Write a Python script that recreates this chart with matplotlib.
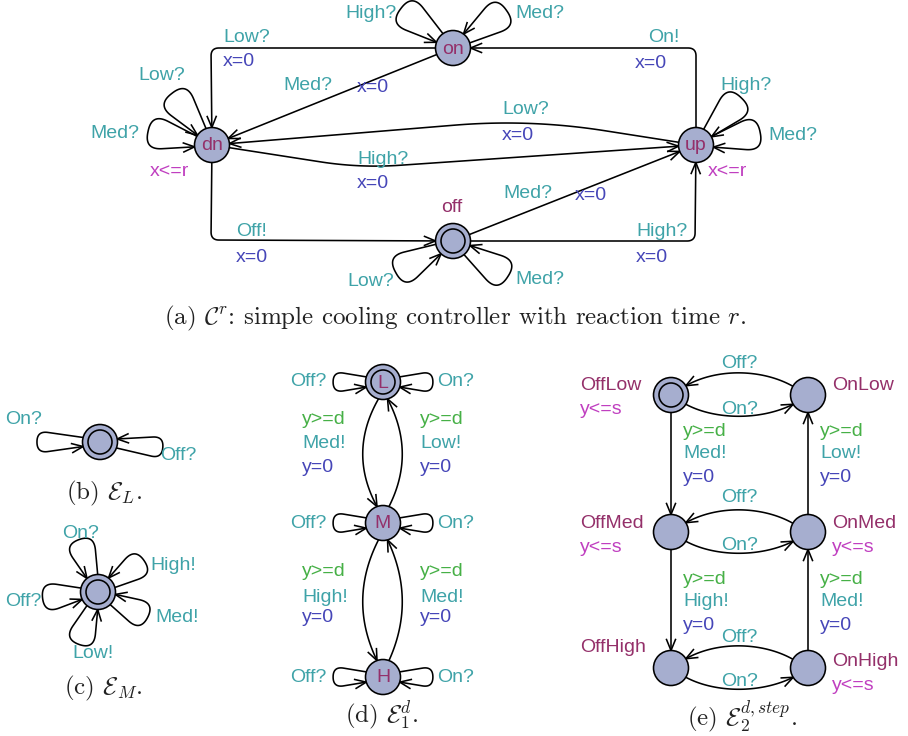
import numpy as np
import matplotlib.pyplot as plt

plt.rcParams['mathtext.fontset'] = 'cm'
SANS = ['Liberation Sans', 'DejaVu Sans']

# UPPAAL style colours
SYNC_C = '#3fa3a8'
UPD_C = '#4646b8'
INV_C = '#c03fc0'
NAME_C = '#94306a'
GUARD_C = '#46b046'
LOC_FILL = '#a6aecf'

# ---------------- data ----------------
# (a) controller C^r
ctrl_locs = ['on', 'dn', 'up', 'off']
ctrl_init = 'off'
ctrl_inv = {'dn': 'x<=r', 'up': 'x<=r'}
ctrl_edges = [('on', 'dn', 'Low?', 'x=0'),
              ('on', 'dn', 'Med?', 'x=0'),
              ('up', 'on', 'On!', 'x=0'),
              ('up', 'dn', 'Low?', 'x=0'),
              ('dn', 'up', 'High?', 'x=0'),
              ('off', 'up', 'Med?', 'x=0'),
              ('dn', 'off', 'Off!', 'x=0'),
              ('off', 'up', 'High?', 'x=0')]
ctrl_loops = [('on', 'High?'), ('on', 'Med?'), ('dn', 'Low?'), ('dn', 'Med?'),
              ('up', 'High?'), ('up', 'Med?'), ('off', 'Low?'), ('off', 'Med?')]

# (b) E_L and (c) E_M : one location with self loops
envL_loops = ['On?', 'Off?']
envM_loops = ['On?', 'High!', 'Med!', 'Low!', 'Off?']

# (d) E_1^d
env1_locs = ['L', 'M', 'H']
env1_edges = [('L', 'M', 'y>=d', 'Med!', 'y=0'),
              ('M', 'L', 'y>=d', 'Low!', 'y=0'),
              ('M', 'H', 'y>=d', 'High!', 'y=0'),
              ('H', 'M', 'y>=d', 'Med!', 'y=0')]
env1_loops = ['Off?', 'On?']

# (e) E_2^{d,step}
env2_locs = ['OffLow', 'OnLow', 'OffMed', 'OnMed', 'OffHigh', 'OnHigh']
env2_inv = {'OffLow': 'y<=s', 'OffMed': 'y<=s', 'OnMed': 'y<=s', 'OnHigh': 'y<=s'}
env2_switch = [('OnLow', 'OffLow', 'Off?'), ('OffLow', 'OnLow', 'On?'),
               ('OnMed', 'OffMed', 'Off?'), ('OffMed', 'OnMed', 'On?'),
               ('OnHigh', 'OffHigh', 'Off?'), ('OffHigh', 'OnHigh', 'On?')]
env2_steps = [('OffLow', 'OffMed', 'y>=d', 'Med!', 'y=0'),
              ('OffMed', 'OffHigh', 'y>=d', 'High!', 'y=0'),
              ('OnMed', 'OnLow', 'y>=d', 'Low!', 'y=0'),
              ('OnHigh', 'OnMed', 'y>=d', 'Med!', 'y=0')]

captions = [r'(a) $\mathcal{C}^r$: simple cooling controller with reaction time $r$.',
            r'(b) $\mathcal{E}_L$.', r'(c) $\mathcal{E}_M$.',
            r'(d) $\mathcal{E}_1^d$.', r'(e) $\mathcal{E}_2^{d,step}$.']

# ---------------- layout (pixel coordinates) ----------------
R, R_IN = 17.5, 12
LW = 1.15
FS = 14

ctrl_xy = {'on': (453, 48), 'dn': (212, 145), 'up': (696, 145), 'off': (453, 241)}
ctrl_edge_geo = [dict(nails=[(211, 48)], rad=8, lab=[(223, 38), (223, 62)]),
                 dict(nails=[], rad=0, lab=[(283, 86), (357, 87)]),
                 dict(nails=[(696, 48)], rad=8, lab=[(648, 38), (635, 63)]),
                 dict(nails=[(530, 119)], rad=90, lab=[(502, 110), (502, 135)]),
                 dict(nails=[(360, 168)], rad=40, lab=[(357, 159), (357, 183)]),
                 dict(nails=[], rad=0, lab=[(503, 193), (575, 196)]),
                 dict(nails=[(211, 240)], rad=8, lab=[(236, 232), (236, 257)]),
                 dict(nails=[(695, 241)], rad=8, lab=[(636, 232), (636, 257)])]
# loop direction angle (deg, y up), counter-clockwise flag, label left/centre
ctrl_loop_geo = [(143, True, (345, 13)), (35, True, (515, 13)),
                 (128, True, (138, 75)), (168, True, (90, 133)),
                 (46, False, (720, 86)), (11, False, (768, 135)),
                 (-151, True, (347, 282)), (-33, True, (515, 280))]
ctrl_inv_xy = {'dn': (150, 172), 'up': (708, 172)}

envL_xy = (100, 442)
envL_loop_geo = [(180, True, (5, 420)), (-5, True, (160, 455))]
envM_xy = (98, 592)
envM_loop_geo = [(110, True, (62, 533)), (34, True, (150, 565)),
                 (-27, True, (155, 618)), (-110, True, (72, 653)),
                 (186, True, (5, 602))]

env1_xy = {'L': (383, 382), 'M': (383, 523), 'H': (383, 677)}
env1_edge_geo = [(-105, 110, -30, (302, [420, 443, 467])),
                 (70, -75, 28, (420, [420, 443, 467])),
                 (-105, 110, -30, (302, [572, 597, 618])),
                 (70, -75, 28, (420, [572, 597, 618]))]

env2_xy = {'OffLow': (671, 395), 'OnLow': (808, 395),
           'OffMed': (671, 532), 'OnMed': (808, 532),
           'OffHigh': (671, 668), 'OnHigh': (808, 668)}
env2_name_xy = {'OffLow': (580, 385), 'OnLow': (832, 385),
                'OffMed': (580, 523), 'OnMed': (832, 523),
                'OffHigh': (580, 648), 'OnHigh': (832, 661)}
env2_switch_lab_y = [363, 409, 498, 545, 637, 682]
env2_step_lab = [(683, [432, 453, 477]), (683, [580, 602, 625]),
                 (820, [432, 453, 477]), (820, [580, 602, 625])]
caption_xy = [(455, 318), (104, 493), (103, 688), (382, 715), (742, 717)]


# ---------------- helpers ----------------
def unit(deg):
    t = np.radians(deg)
    return np.array([np.cos(t), -np.sin(t)])


def toward(c, p, r=R):
    c = np.asarray(c, float)
    d = np.asarray(p, float) - c
    return c + d / np.hypot(*d) * r


def rounded(pts, rad):
    pts = [np.asarray(p, float) for p in pts]
    out = [pts[0]]
    for i in range(1, len(pts) - 1):
        p0, p1, p2 = pts[i - 1], pts[i], pts[i + 1]
        d0, d2 = np.linalg.norm(p1 - p0), np.linalg.norm(p2 - p1)
        c = min(rad, d0 / 2, d2 / 2)
        a = p1 + (p0 - p1) / d0 * c
        b = p1 + (p2 - p1) / d2 * c
        t = np.linspace(0, 1, 30)[:, None]
        out.extend((1 - t) ** 2 * a + 2 * (1 - t) * t * p1 + t ** 2 * b)
    out.append(pts[-1])
    return np.array(out)


def bezier(ctrl, n=80):
    ctrl = np.asarray(ctrl, float)
    res = []
    for tt in np.linspace(0, 1, n):
        p = ctrl.copy()
        while len(p) > 1:
            p = (1 - tt) * p[:-1] + tt * p[1:]
        res.append(p[0])
    return np.array(res)


def draw_path(ax, path, head=True):
    ax.plot(path[:, 0], path[:, 1], color='black', lw=LW, solid_capstyle='round', zorder=2)
    if not head:
        return
    tip = path[-1]
    k = len(path) - 2
    while k > 0 and np.linalg.norm(tip - path[k]) < 4:
        k -= 1
    u = tip - path[k]
    u /= np.linalg.norm(u)
    n = np.array([-u[1], u[0]])
    back = tip - u * 11
    hx = [back[0] + n[0] * 4.5, tip[0], back[0] - n[0] * 4.5]
    hy = [back[1] + n[1] * 4.5, tip[1], back[1] - n[1] * 4.5]
    ax.plot(hx, hy, color='black', lw=LW, solid_joinstyle='miter', zorder=2)


def draw_loop(ax, c, theta, ccw, D=60, a=16, b=12, rad=9):
    c = np.asarray(c, float)
    s = -1 if ccw else 1
    pts = [c + R * unit(theta + s * a), c + D * unit(theta + s * b),
           c + D * unit(theta - s * b), c + R * unit(theta - s * a)]
    draw_path(ax, rounded(pts, rad))


def draw_loc(ax, c, initial=False, name=None):
    ax.add_patch(plt.Circle(c, R, facecolor=LOC_FILL, edgecolor='black', lw=LW, zorder=3))
    if initial:
        ax.add_patch(plt.Circle(c, R_IN, facecolor='none', edgecolor='black', lw=LW, zorder=4))
    if name:
        ax.text(c[0], c[1] + 1, name, color=NAME_C, fontsize=FS, family=SANS,
                ha='center', va='center', zorder=5)


def label(ax, xy, s, color, ha='left'):
    ax.text(xy[0], xy[1], s, color=color, fontsize=FS, family=SANS,
            ha=ha, va='center', zorder=5)


fig = plt.figure(figsize=(9.08, 7.36), dpi=100)
ax = fig.add_axes([0, 0, 1, 1])
ax.set_xlim(0, 908)
ax.set_ylim(736, 0)
ax.set_aspect('equal')
ax.axis('off')

# ---- (a) ----
for (src, dst, sync, upd), g in zip(ctrl_edges, ctrl_edge_geo):
    first = g['nails'][0] if g['nails'] else ctrl_xy[dst]
    last = g['nails'][-1] if g['nails'] else ctrl_xy[src]
    pts = [toward(ctrl_xy[src], first)] + g['nails'] + [toward(ctrl_xy[dst], last)]
    draw_path(ax, rounded(pts, g['rad']))
    label(ax, g['lab'][0], sync, SYNC_C)
    label(ax, g['lab'][1], upd, UPD_C)
for (loc, sync), (th, ccw, lxy) in zip(ctrl_loops, ctrl_loop_geo):
    draw_loop(ax, ctrl_xy[loc], th, ccw, D=68, a=18, b=16, rad=18)
    label(ax, lxy, sync, SYNC_C)
for loc in ctrl_locs:
    draw_loc(ax, ctrl_xy[loc], loc == ctrl_init, None if loc == 'off' else loc)
label(ax, (452, 207), 'off', NAME_C, ha='center')
for loc, inv in ctrl_inv.items():
    label(ax, ctrl_inv_xy[loc], inv, INV_C)

# ---- (b) ----
for sync, (th, ccw, lxy) in zip(envL_loops, envL_loop_geo):
    draw_loop(ax, envL_xy, th, ccw, D=64, a=15, b=10, rad=11)
    label(ax, lxy, sync, SYNC_C)
draw_loc(ax, envL_xy, True)

# ---- (c) ----
for sync, (th, ccw, lxy) in zip(envM_loops, envM_loop_geo):
    draw_loop(ax, envM_xy, th, ccw, D=58, a=19, b=16, rad=16)
    label(ax, lxy, sync, SYNC_C)
draw_loc(ax, envM_xy, True)

# ---- (d) ----
for (src, dst, guard, sync, upd), (a0, a1, bend, (lx, lys)) in zip(env1_edges, env1_edge_geo):
    p0 = np.asarray(env1_xy[src]) + R * unit(a0)
    p2 = np.asarray(env1_xy[dst]) + R * unit(a1)
    p1 = (p0 + p2) / 2 + np.array([bend, 0])
    draw_path(ax, bezier([p0, p1, p2]))
    label(ax, (lx, lys[0]), guard, GUARD_C)
    label(ax, (lx, lys[1]), sync, SYNC_C)
    label(ax, (lx, lys[2]), upd, UPD_C)
for loc in env1_locs:
    c = env1_xy[loc]
    draw_loop(ax, c, 180, True, D=51, a=17, b=12, rad=11)
    draw_loop(ax, c, 0, False, D=51, a=17, b=12, rad=11)
    label(ax, (c[0] - 93, c[1]), env1_loops[0], SYNC_C)
    label(ax, (c[0] + 54, c[1]), env1_loops[1], SYNC_C)
    draw_loc(ax, c, loc == 'L', loc)

# ---- (e) ----
for (src, dst, sync), ly in zip(env2_switch, env2_switch_lab_y):
    cs, cd = np.asarray(env2_xy[src], float), np.asarray(env2_xy[dst], float)
    if sync == 'Off?':
        p0, p3 = cs + R * unit(150), cd + R * unit(32)
        p1, p2 = p0 + np.array([-30, -17]), p3 + np.array([32, -18])
    else:
        p0, p3 = cs + R * unit(-32), cd + R * unit(-148)
        p1, p2 = p0 + np.array([30, 16]), p3 + np.array([-32, 16])
    draw_path(ax, bezier([p0, p1, p2, p3]))
    label(ax, ((cs[0] + cd[0]) / 2, ly), sync, SYNC_C, ha='center')
for (src, dst, guard, sync, upd), (lx, lys) in zip(env2_steps, env2_step_lab):
    pts = [toward(env2_xy[src], env2_xy[dst]), toward(env2_xy[dst], env2_xy[src])]
    draw_path(ax, np.array(pts))
    label(ax, (lx, lys[0]), guard, GUARD_C)
    label(ax, (lx, lys[1]), sync, SYNC_C)
    label(ax, (lx, lys[2]), upd, UPD_C)
for loc in env2_locs:
    draw_loc(ax, env2_xy[loc], loc == 'OffLow')
    nx, ny = env2_name_xy[loc]
    label(ax, (nx, ny), loc, NAME_C)
    if loc in env2_inv:
        label(ax, (nx, ny + 24), env2_inv[loc], INV_C)

# ---- captions ----
for cap, (cx, cy) in zip(captions, caption_xy):
    ax.text(cx, cy, cap, fontsize=18, family='cmr10', ha='center', va='center', color='#222222')

fig.savefig('out.png', dpi=100)
